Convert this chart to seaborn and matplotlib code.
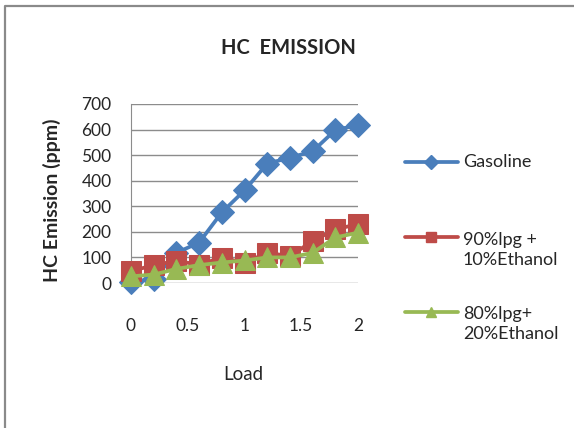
import matplotlib
matplotlib.use("Agg")
import matplotlib.pyplot as plt
from matplotlib.lines import Line2D
import seaborn as sns
import pandas as pd

# data
load = [0, 0.2, 0.4, 0.6, 0.8, 1.0, 1.2, 1.4, 1.6, 1.8, 2.0]
gasoline = [5, 15, 118, 158, 276, 362, 467, 490, 515, 598, 618]
lpg90_eth10 = [46, 70, 86, 72, 99, 79, 118, 105, 164, 210, 230]
lpg80_eth20 = [26, 33, 55, 70, 80, 88, 100, 100, 118, 178, 197]

series_names = ["Gasoline", "90%lpg +\n10%Ethanol", "80%lpg+\n20%Ethanol"]
colors = ["#4A7EBB", "#BE4B48", "#98B954"]
markers = ["D", "s", "^"]
msizes = [12, 14, 14]

df = pd.concat([
    pd.DataFrame({"Load": load, "HC": vals, "fuel": name})
    for name, vals in zip(series_names, [gasoline, lpg90_eth10, lpg80_eth20])
])

sns.set_style("white")
plt.rcParams["font.family"] = ["Lato", "DejaVu Sans"]

fig = plt.figure(figsize=(5.74, 4.28), dpi=100)
ax = fig.add_axes([131 / 574, 1 - 283 / 428, 227 / 574, 179 / 428])

for name, col, mk, ms in zip(series_names, colors, markers, msizes):
    sub = df[df["fuel"] == name]
    sns.lineplot(data=sub, x="Load", y="HC", ax=ax, color=col, lw=2.7,
                 marker=mk, markersize=ms, markeredgecolor=col,
                 clip_on=False, zorder=3)

ax.set_xlim(0, 2)
ax.set_ylim(0, 700)
ax.set_xticks([0, 0.5, 1, 1.5, 2])
ax.set_xticklabels(["0", "0.5", "1", "1.5", "2"])
ax.set_yticks(range(0, 701, 100))
ax.yaxis.grid(True, color="#8c8c8c", lw=1)
ax.xaxis.grid(False)
for s in ["top", "right", "bottom"]:
    ax.spines[s].set_visible(False)
ax.spines["left"].set_color("#8c8c8c")
ax.tick_params(axis="x", length=0, pad=25, labelsize=12.5)
ax.tick_params(axis="y", length=0, pad=14, labelsize=12.5)

ax.set_xlabel("Load", fontsize=13.5)
ax.xaxis.set_label_coords(0.493, -0.465)
ax.set_ylabel("HC Emission (ppm)", fontsize=14, fontweight="bold")
ax.yaxis.set_label_coords(-0.31, 0.46)

fig.text(288 / 574, 1 - 48 / 428, "HC  EMISSION", ha="center", va="center",
         fontsize=14.5, fontweight="bold")

# legend, drawn by hand to keep Excel's spacing
leg_y = [162, 237, 312]
text_y = [162, 250, 324]
for name, col, mk, y, ty in zip(series_names, colors, markers, leg_y, text_y):
    yf = 1 - y / 428
    fig.add_artist(Line2D([405 / 574, 431 / 574, 458 / 574], [yf, yf, yf],
                          transform=fig.transFigure, color=col, lw=2.7,
                          marker=mk, markersize=7, markevery=[1]))
    fig.text(463 / 574, 1 - ty / 428, name, ha="left", va="center",
             fontsize=13, linespacing=1.35,
             transform=fig.transFigure)

# chart area border (top and left visible)
fig.add_artist(Line2D([5 / 574, 5 / 574, 1], [0, 1 - 6 / 428, 1 - 6 / 428],
                      transform=fig.transFigure, color="#8a8a8a", lw=1.6))

fig.savefig("out.png", dpi=100)
